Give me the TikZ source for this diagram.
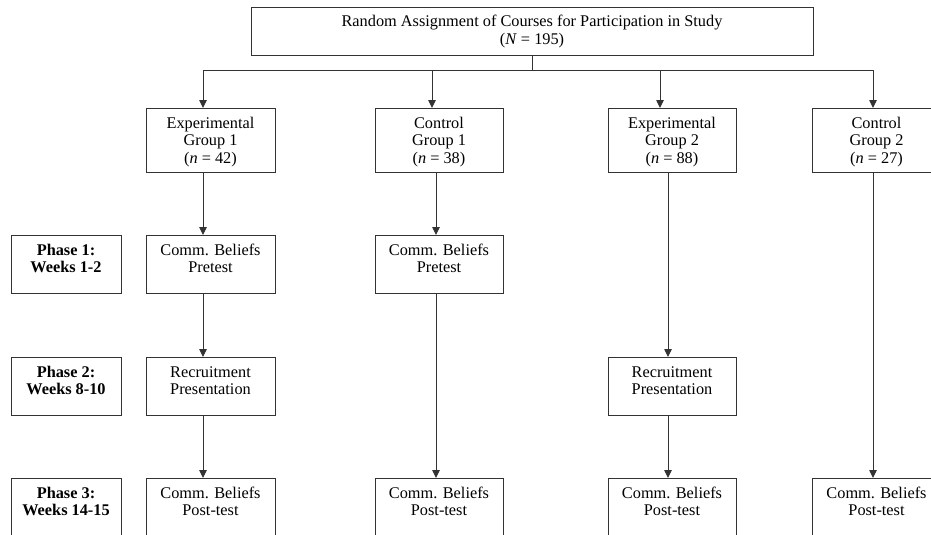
\documentclass[tikz,border=0pt]{standalone}
\usepackage{fontspec}
\setmainfont{Liberation Serif}
\usetikzlibrary{arrows.meta}
\newcommand\cellbox[3]{\parbox[c][#2][t]{#1}{\centering\fontsize{16.3}{17.5}\selectfont\rule{0pt}{20pt}#3\par}}
\tikzset{
  box/.style={draw=black!80, line width=0.9pt, inner sep=0pt, outer sep=0pt, anchor=north west},
  ln/.style={draw=black!80, line width=0.9pt},
  arr/.style={draw=black!80, line width=0.9pt, -{Triangle[length=8pt,width=7.5pt]}}
}
\begin{document}
\begin{tikzpicture}[x=1pt,y=-1pt]
\useasboundingbox (0,0) rectangle (931,535);
\clip (0,0) rectangle (931,535);
% top
\node[box] (top) at (251,7) {\cellbox{562pt}{48pt}{Random Assignment of Courses for Participation in Study\\(\textit{N} = 195)}};
% groups
\node[box] (eg1) at (146,108) {\cellbox{129pt}{64pt}{Experimental\\Group 1\\(\textit{n} = 42)}};
\node[box] (cg1) at (375,108) {\cellbox{128pt}{64pt}{Control\\Group 1\\(\textit{n} = 38)}};
\node[box] (eg2) at (608,108) {\cellbox{128pt}{64pt}{Experimental\\Group 2\\(\textit{n} = 88)}};
\node[box] (cg2) at (812,108) {\cellbox{129pt}{64pt}{Control\\Group 2\\(\textit{n} = 27)}};
% phase labels
\node[box] (ph1) at (11,235) {\cellbox{110pt}{58pt}{\bfseries Phase 1:\\Weeks 1-2}};
\node[box] (ph2) at (11,357) {\cellbox{110pt}{58pt}{\bfseries Phase 2:\\Weeks 8-10}};
\node[box] (ph3) at (11,478) {\cellbox{110pt}{58pt}{\bfseries Phase 3:\\Weeks 14-15}};
% phase 1
\node[box] (pre1) at (146,235) {\cellbox{129pt}{58pt}{Comm. Beliefs\\Pretest}};
\node[box] (pre2) at (375,235) {\cellbox{128pt}{58pt}{Comm. Beliefs\\Pretest}};
% phase 2
\node[box] (rec1) at (146,357) {\cellbox{129pt}{58pt}{Recruitment\\Presentation}};
\node[box] (rec3) at (608,357) {\cellbox{128pt}{58pt}{Recruitment\\Presentation}};
% phase 3
\node[box] (post1) at (146,478) {\cellbox{129pt}{58pt}{Comm. Beliefs\\Post-test}};
\node[box] (post2) at (375,478) {\cellbox{128pt}{58pt}{Comm. Beliefs\\Post-test}};
\node[box] (post3) at (608,478) {\cellbox{128pt}{58pt}{Comm. Beliefs\\Post-test}};
\node[box] (post4) at (812,478) {\cellbox{129pt}{58pt}{Comm. Beliefs\\Post-test}};
% connector columns
\coordinate (k1) at (203,70);
\coordinate (k2) at (432,70);
\coordinate (k3) at (660,70);
\coordinate (k4) at (873,70);
\coordinate (d2) at (436,0);
\coordinate (d3) at (668,0);
% connectors
\draw[ln] (top.south) -- (top.south |- k1);
\draw[ln] (k1) -- (k4);
\draw[arr] (k1) -- (k1 |- eg1.north);
\draw[arr] (k2) -- (k2 |- cg1.north);
\draw[arr] (k3) -- (k3 |- eg2.north);
\draw[arr] (k4) -- (k4 |- cg2.north);
\draw[arr] (k1 |- eg1.south) -- (k1 |- pre1.north);
\draw[arr] (k1 |- pre1.south) -- (k1 |- rec1.north);
\draw[arr] (k1 |- rec1.south) -- (k1 |- post1.north);
\draw[arr] (d2 |- cg1.south) -- (d2 |- pre2.north);
\draw[arr] (d2 |- pre2.south) -- (d2 |- post2.north);
\draw[arr] (d3 |- eg2.south) -- (d3 |- rec3.north);
\draw[arr] (d3 |- rec3.south) -- (d3 |- post3.north);
\draw[arr] (k4 |- cg2.south) -- (k4 |- post4.north);
\end{tikzpicture}
\end{document}
